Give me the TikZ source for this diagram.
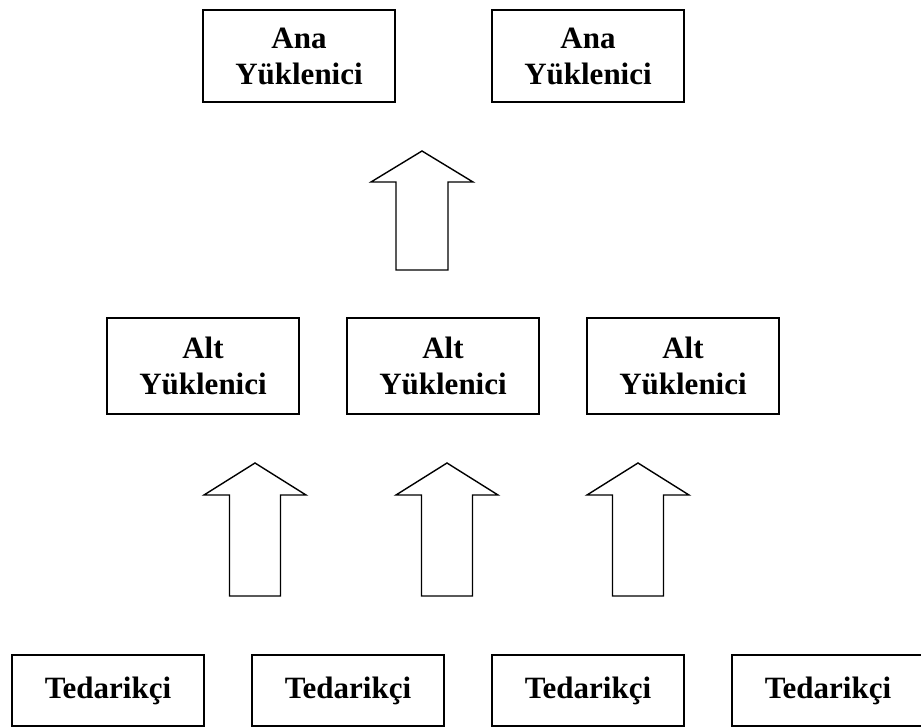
\documentclass[tikz,border=0pt]{standalone}
\usepackage{fontspec}
\setmainfont{Liberation Serif}
\begin{document}
\begin{tikzpicture}[x=1pt,y=-1pt,
  box/.style={draw=black,line width=1.8pt,fill=white,inner sep=0pt,
    minimum width=192pt,align=center,
    font=\fontsize{31}{36}\selectfont\bfseries},
  topbox/.style={box,minimum height=92pt},
  midbox/.style={box,minimum height=96pt},
  lowbox/.style={box,minimum height=71pt},
  blockarrow/.style={draw=black,line width=1.4pt,line join=miter,fill=white}]
\useasboundingbox (0,0) rectangle (921,727);

% contractors
\node[topbox] (ana1) at (299,56) {Ana\\Yüklenici};
\node[topbox] (ana2) at (588,56) {Ana\\Yüklenici};

% subcontractors
\node[midbox] (alt1) at (203,366) {Alt\\Yüklenici};
\node[midbox] (alt2) at (443,366) {Alt\\Yüklenici};
\node[midbox] (alt3) at (683,366) {Alt\\Yüklenici};

% suppliers
\node[lowbox] (ted1) at (108,690.5) {Tedarikçi};
\node[lowbox] (ted2) at (348,690.5) {Tedarikçi};
\node[lowbox] (ted3) at (588,690.5) {Tedarikçi};
\node[lowbox] (ted4) at (828,690.5) {Tedarikçi};

% block arrow from subcontractors up to contractors
\draw[blockarrow] (422,151) -- (473,182) -- (448,182) -- (448,270)
  -- (396,270) -- (396,182) -- (371,182) -- cycle;

% block arrows from suppliers up to subcontractors
\foreach \cx in {255,447,638}{
  \draw[blockarrow] (\cx,463) -- (\cx+51,495) -- (\cx+25.5,495)
    -- (\cx+25.5,596) -- (\cx-25.5,596) -- (\cx-25.5,495)
    -- (\cx-51,495) -- cycle;
}
\end{tikzpicture}
\end{document}
